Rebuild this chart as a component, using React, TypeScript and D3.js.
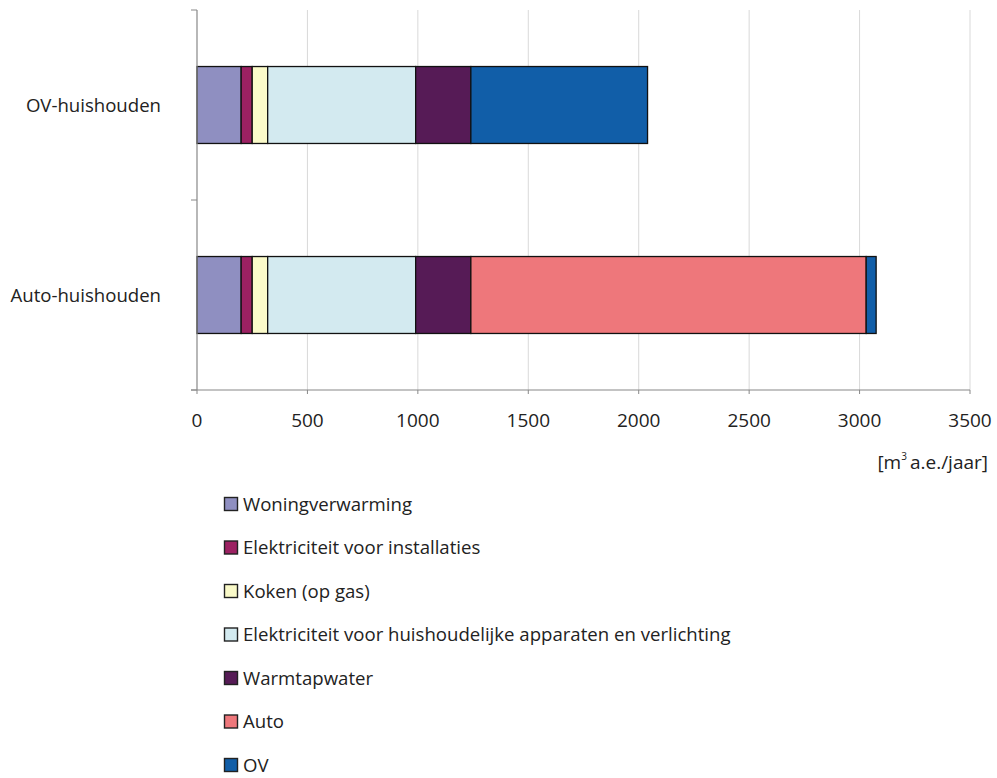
import React from "react";
import * as d3 from "d3";

const categories = ["OV-huishouden", "Auto-huishouden"];
const seriesNames = [
  "Woningverwarming",
  "Elektriciteit voor installaties",
  "Koken (op gas)",
  "Elektriciteit voor huishoudelijke apparaten en verlichting",
  "Warmtapwater",
  "Auto",
  "OV",
];
const woningverwarming = [200, 200];
const elektriciteitInstallaties = [50, 50];
const koken = [70, 70];
const elektriciteitHuishoudelijk = [670, 670];
const warmtapwater = [250, 250];
const auto = [0, 1790];
const ov = [800, 45];
const xTicks = [0, 500, 1000, 1500, 2000, 2500, 3000, 3500];
const colors = ["#8f8fc1", "#9c2162", "#fafac9", "#d3eaf0", "#561b56", "#ee777b", "#115ea8"];

const W = 997;
const H = 778;
const M = { left: 197, right: 970, top: 10, bottom: 390 };
const FONT = "'Open Sans', sans-serif";

export default function App() {
  const seriesValues = [
    woningverwarming,
    elektriciteitInstallaties,
    koken,
    elektriciteitHuishoudelijk,
    warmtapwater,
    auto,
    ov,
  ];
  const rows = categories.map((c, i) => {
    const r: Record<string, any> = { cat: c };
    seriesNames.forEach((s, j) => (r[s] = seriesValues[j][i]));
    return r;
  });
  const stacked = d3.stack<any>().keys(seriesNames)(rows);

  const x = d3.scaleLinear().domain([0, 3500]).range([M.left, M.right]);
  const y = d3
    .scaleBand<string>()
    .domain(categories)
    .range([M.top, M.bottom])
    .paddingInner(0.595)
    .paddingOuter(0.2975);

  const yTicks = [M.top, (M.top + M.bottom) / 2, M.bottom];

  return (
    <svg width={W} height={H} style={{ position: "absolute", left: 0, top: 0, background: "#fff" }}>
      <rect x={0} y={0} width={W} height={H} fill="#fff" />
      {/* gridlines */}
      {xTicks.slice(1).map((t) => (
        <line key={t} x1={x(t)} x2={x(t)} y1={M.top} y2={M.bottom} stroke="#d9d9d9" strokeWidth={1} />
      ))}
      {/* bars */}
      {stacked.map((layer, li) =>
        layer.map((d, i) =>
          d[1] - d[0] > 0 ? (
            <rect
              key={`${li}-${i}`}
              x={x(d[0])}
              y={y(categories[i])}
              width={x(d[1]) - x(d[0])}
              height={y.bandwidth()}
              fill={colors[li]}
              stroke="#111"
              strokeWidth={1.3}
            />
          ) : null
        )
      )}
      {/* axes */}
      <line x1={M.left} x2={M.left} y1={M.top} y2={M.bottom} stroke="#888" strokeWidth={1.2} />
      <line x1={M.left - 6} x2={M.right} y1={M.bottom} y2={M.bottom} stroke="#888" strokeWidth={1.2} />
      {yTicks.map((t) => (
        <line key={t} x1={M.left - 6} x2={M.left} y1={t} y2={t} stroke="#888" strokeWidth={1} />
      ))}
      {xTicks.map((t) => (
        <g key={t}>
          <line x1={x(t)} x2={x(t)} y1={M.bottom} y2={M.bottom + 4} stroke="#888" strokeWidth={1} />
          <text x={x(t)} y={M.bottom + 37} textAnchor="middle" fontFamily={FONT} fontSize={19} fill="#222">
            {t}
          </text>
        </g>
      ))}
      {categories.map((c) => (
        <text
          key={c}
          x={161}
          y={(y(c) as number) + y.bandwidth() / 2 + 7}
          textAnchor="end"
          fontFamily={FONT}
          fontSize={18.6}
          fill="#222"
        >
          {c}
        </text>
      ))}
      <text x={988} y={469} textAnchor="end" fontFamily={FONT} fontSize={19} fill="#222">
        [m<tspan dy={-9} fontSize={10}>3</tspan>
        <tspan dy={9} dx={3}>a.e./jaar]</tspan>
      </text>
      {/* legend */}
      {seriesNames.map((s, i) => {
        const cy = 504 + i * 43.5;
        return (
          <g key={s}>
            <rect x={224.5} y={cy - 6.5} width={13} height={13} fill={colors[i]} stroke="#222" strokeWidth={1.4} />
            <text x={243} y={cy + 6.5} fontFamily={FONT} fontSize={18.6} fill="#222">
              {s}
            </text>
          </g>
        );
      })}
    </svg>
  );
}
